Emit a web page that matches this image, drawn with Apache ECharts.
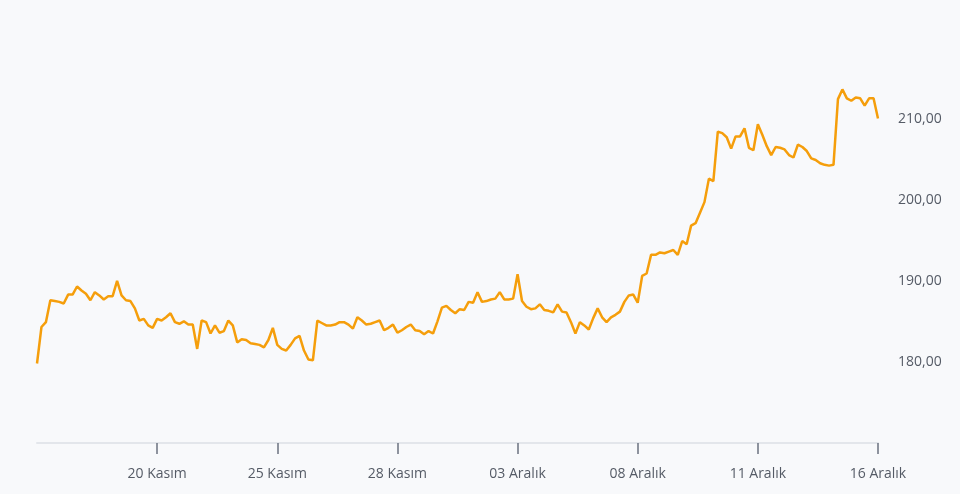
<!DOCTYPE html>
<html>
<head>
<meta charset="utf-8">
<script src="https://cdn.jsdelivr.net/npm/echarts@6/dist/echarts.min.js"></script>
<style>
html,body{margin:0;padding:0;background:#f8f9fb;}
#chart{width:960px;height:494px;}
</style>
</head>
<body>
<div id="chart"></div>
<script>
// Trading days (BIST), 9 hourly points per day
const days = ["17 Kasım","18 Kasım","19 Kasım","20 Kasım","21 Kasım","24 Kasım","25 Kasım","26 Kasım","27 Kasım","28 Kasım",
  "01 Aralık","02 Aralık","03 Aralık","04 Aralık","05 Aralık","08 Aralık","09 Aralık","10 Aralık","11 Aralık","12 Aralık",
  "15 Aralık","16 Aralık"];
const hours = ["10:00","11:00","12:00","13:00","14:00","15:00","16:00","17:00","18:00"];
const labelDays = ["20 Kasım","25 Kasım","28 Kasım","03 Aralık","08 Aralık","11 Aralık","16 Aralık"];
const yTicks = [170, 180, 190, 200, 210, 220];

const prices = [
179.8,184.3,184.9,187.6,187.5,187.4,187.2,188.3,188.3,
189.3,188.8,188.4,187.6,188.6,188.2,187.7,188.1,188.1,
190.0,188.2,187.6,187.5,186.6,185.1,185.3,184.5,184.2,
185.3,185.1,185.5,186.0,184.9,184.7,185.0,184.6,184.6,
181.6,185.1,184.9,183.5,184.5,183.6,183.8,185.1,184.5,
182.4,182.8,182.7,182.3,182.2,182.1,181.8,182.7,184.2,
182.1,181.6,181.4,182.1,182.9,183.2,181.4,180.3,180.2,
185.1,184.8,184.5,184.5,184.6,184.9,184.9,184.6,184.1,
185.5,185.1,184.6,184.7,184.9,185.1,183.9,184.2,184.6,
183.6,183.9,184.3,184.6,183.9,183.8,183.4,183.8,183.5,
185.0,186.7,186.9,186.4,186.0,186.5,186.4,187.4,187.3,
188.6,187.4,187.5,187.7,187.8,188.6,187.7,187.7,187.8,
190.8,187.5,186.8,186.5,186.6,187.1,186.4,186.3,186.1,
187.1,186.2,186.1,184.9,183.5,184.9,184.5,184.0,185.4,
186.6,185.5,184.9,185.5,185.8,186.2,187.4,188.2,188.3,
187.3,190.6,190.9,193.2,193.2,193.5,193.4,193.6,193.8,
193.2,194.9,194.5,196.8,197.1,198.4,199.7,202.6,202.3,
208.4,208.2,207.7,206.3,207.8,207.8,208.8,206.4,206.1,
209.3,208.0,206.6,205.5,206.5,206.4,206.2,205.5,205.2,
206.8,206.5,206.0,205.1,204.9,204.5,204.3,204.2,204.3,
212.4,213.6,212.5,212.2,212.6,212.5,211.6,212.5,212.5,
210.0
];

const categories = [];
days.forEach(d => hours.forEach(h => categories.push(d + " " + h)));
categories.length = prices.length;

const dayOf = v => v.split(" ").slice(0, 2).join(" ");
const isLabel = (i) => hours.indexOf(categories[i].split(" ")[2]) === 0 && labelDays.indexOf(dayOf(categories[i])) >= 0;

const chart = echarts.init(document.getElementById("chart"), null, {renderer: "canvas"});
chart.setOption({
  backgroundColor: "#f8f9fb",
  animation: false,
  grid: {left: 37, right: 82, top: 37.5, bottom: 51},
  xAxis: {
    type: "category",
    data: categories,
    boundaryGap: false,
    axisLine: {show: true, lineStyle: {color: "#e3e6eb", width: 2}},
    axisTick: {show: true, length: 11, interval: (i) => isLabel(i), lineStyle: {color: "#6b7280", width: 1.5}},
    axisLabel: {
      interval: (i) => isLabel(i),
      formatter: (v) => dayOf(v),
      color: "#555b66",
      fontSize: 14,
      fontFamily: "Open Sans",
      margin: 24
    },
    splitLine: {show: false}
  },
  yAxis: {
    type: "value",
    position: "right",
    min: yTicks[0],
    max: yTicks[yTicks.length - 1],
    interval: 10,
    axisLine: {show: false},
    axisTick: {show: false},
    splitLine: {show: false},
    axisLabel: {
      showMinLabel: false,
      showMaxLabel: false,
      margin: 20,
      color: "#555b66",
      fontSize: 14,
      fontFamily: "Open Sans",
      formatter: (v) => v.toFixed(2).replace(".", ",")
    }
  },
  series: [{
    type: "line",
    data: prices,
    showSymbol: false,
    smooth: false,
    lineStyle: {color: "#f59e0b", width: 2.5},
    itemStyle: {color: "#f59e0b"}
  }]
});
</script>
</body>
</html>
